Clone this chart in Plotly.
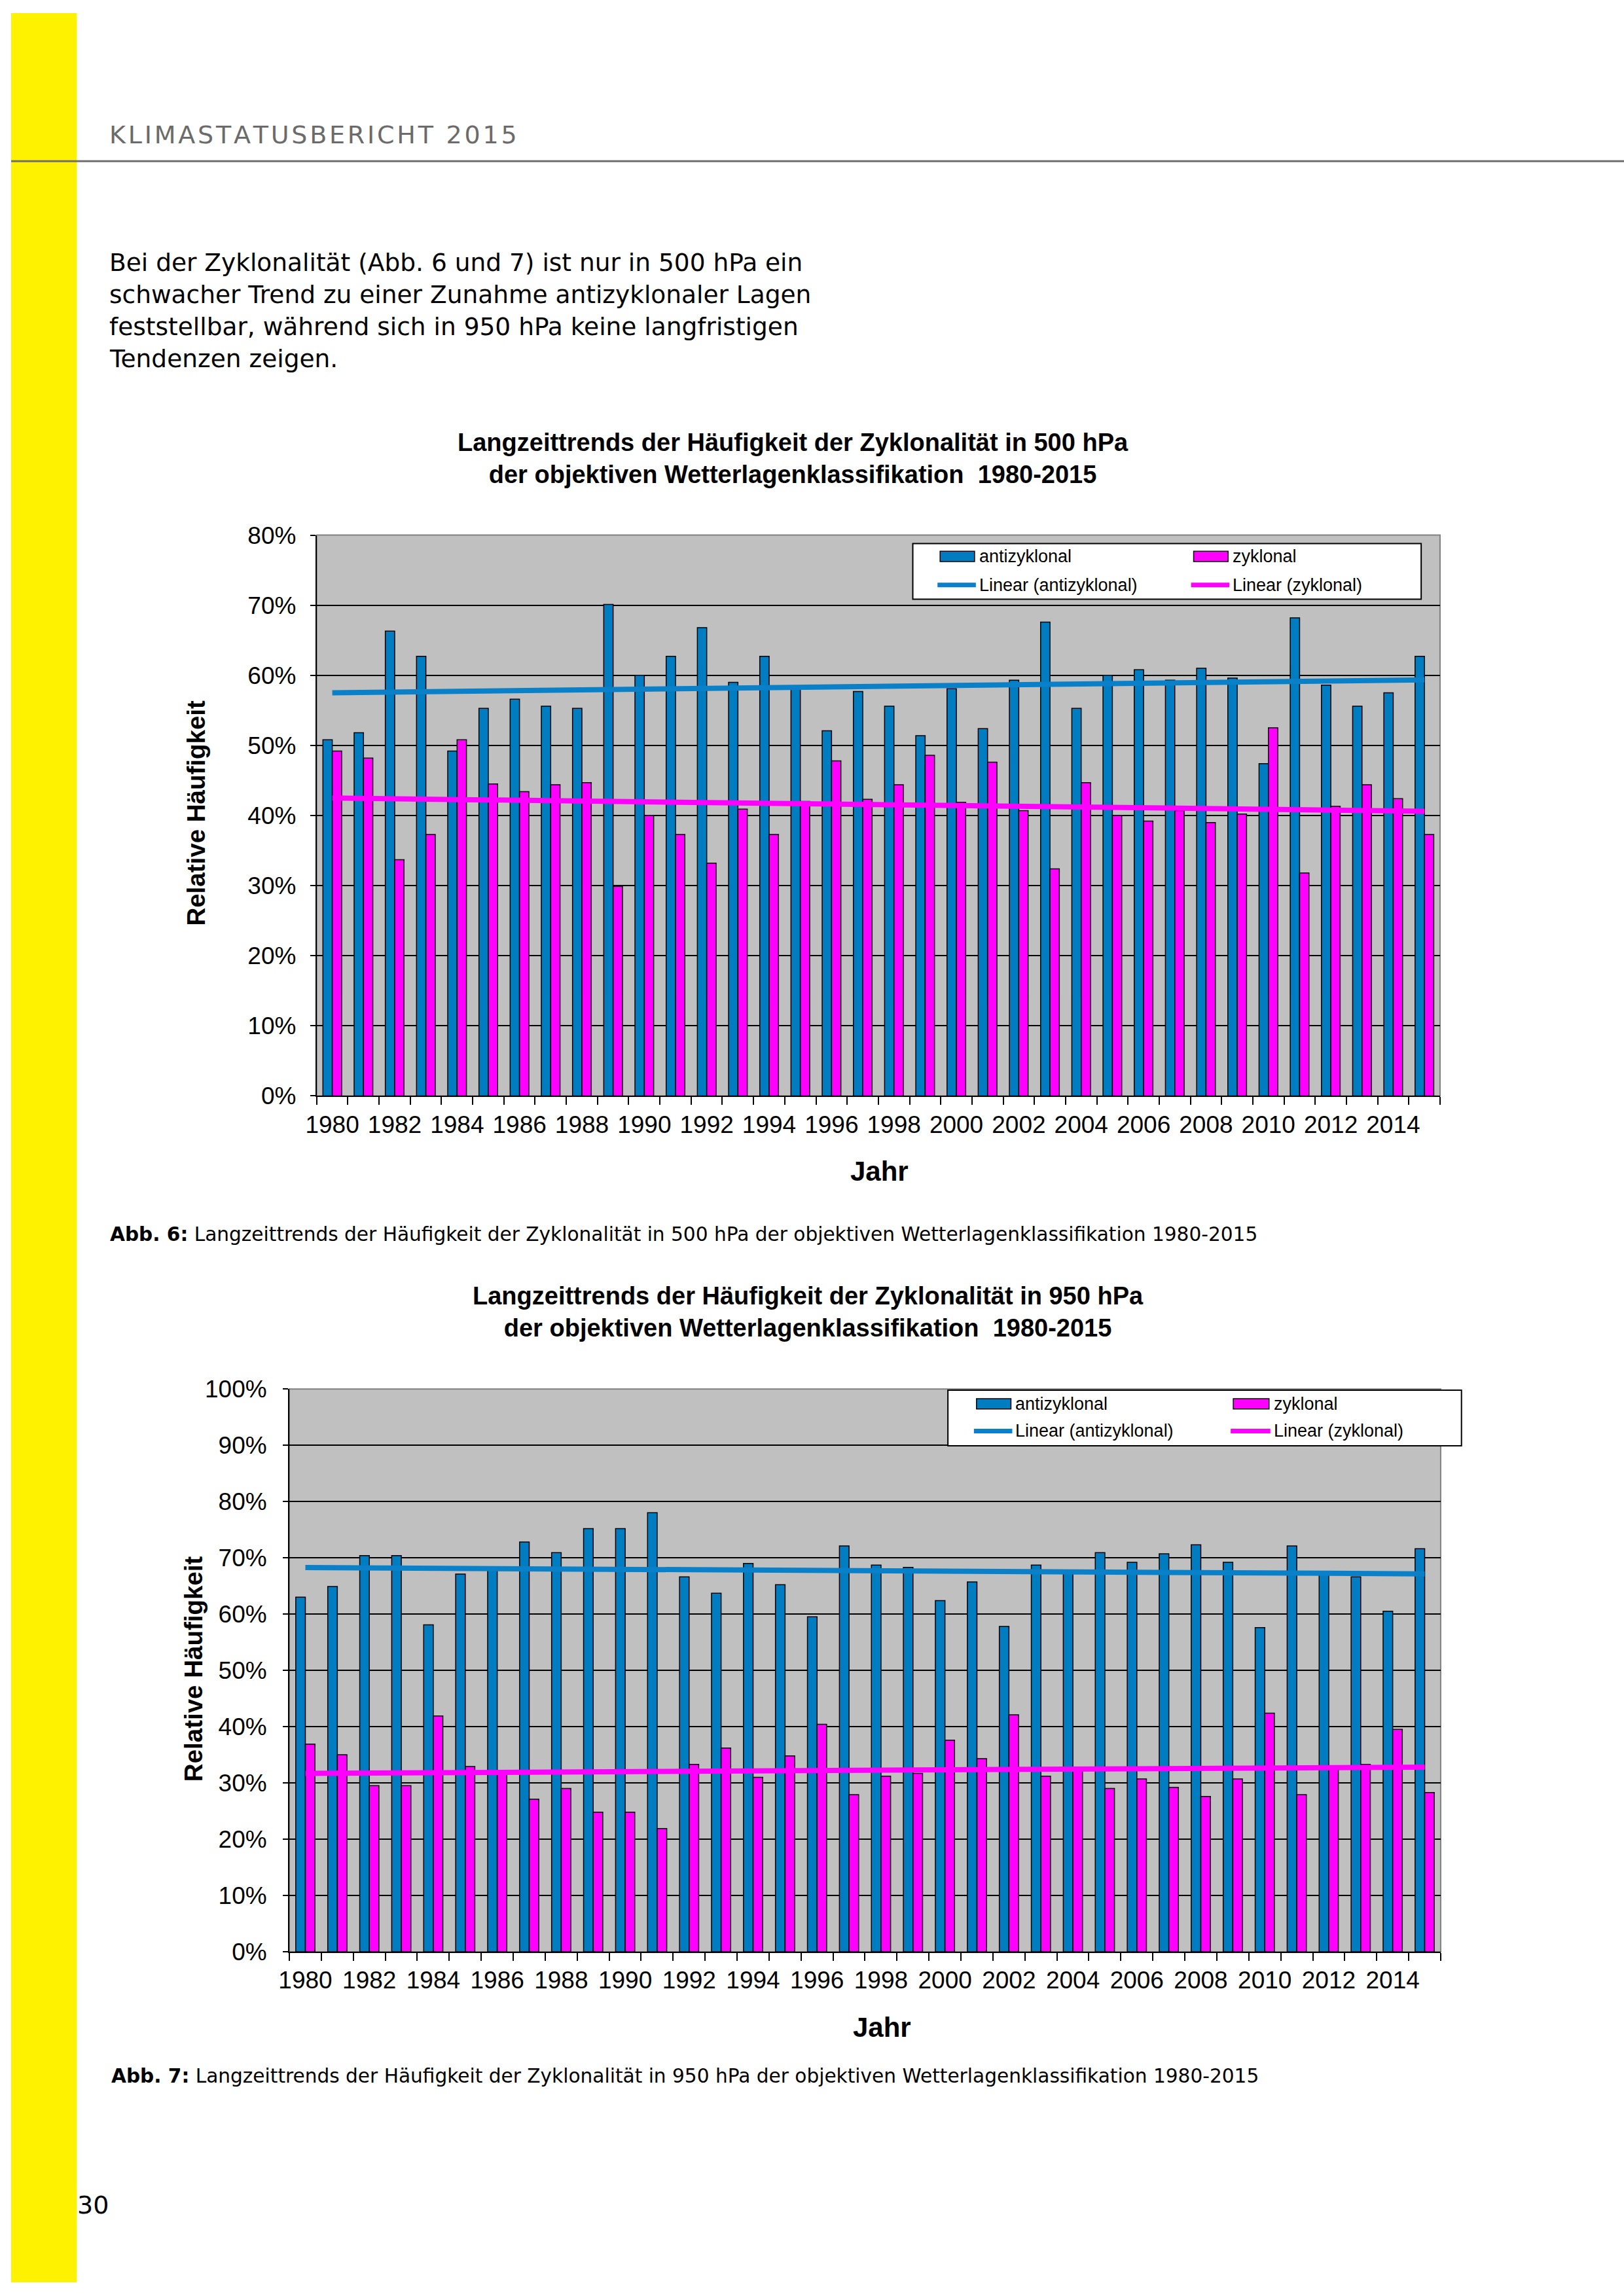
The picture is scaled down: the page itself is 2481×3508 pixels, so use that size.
import numpy as np
import plotly.graph_objects as go

# ---------------- data ----------------
years = list(range(1980, 2016))
tick_years = years[::2]
tick_labels = [str(y) for y in tick_years]

anti_500 = [50.8, 51.8, 66.3, 62.7, 49.2, 55.3, 56.6, 55.6, 55.3, 70.1, 60.0, 62.7,
            66.8, 59.0, 62.7, 58.0, 52.1, 57.7, 55.6, 51.4, 58.1, 52.4, 59.3, 67.6,
            55.3, 60.0, 60.8, 59.3, 61.0, 59.6, 47.4, 68.2, 58.6, 55.6, 57.5, 62.7]
zyk_500 = [49.2, 48.2, 33.7, 37.3, 50.8, 44.5, 43.4, 44.4, 44.7, 29.9, 40.0, 37.3,
           33.2, 40.9, 37.3, 42.0, 47.8, 42.3, 44.4, 48.6, 41.9, 47.6, 40.7, 32.4,
           44.7, 40.0, 39.2, 40.7, 39.0, 40.2, 52.5, 31.8, 41.3, 44.4, 42.4, 37.3]

anti_950 = [63.0, 64.9, 70.4, 70.4, 58.1, 67.1, 68.1, 72.8, 70.9, 75.2, 75.2, 78.0,
            66.6, 63.7, 69.0, 65.2, 59.5, 72.1, 68.7, 68.3, 62.4, 65.7, 57.8, 68.7,
            67.6, 70.9, 69.2, 70.7, 72.3, 69.2, 57.6, 72.1, 67.2, 66.6, 60.5, 71.6]
zyk_950 = [36.9, 35.0, 29.5, 29.5, 41.9, 32.9, 31.9, 27.1, 29.0, 24.8, 24.8, 21.9,
           33.3, 36.2, 31.0, 34.8, 40.4, 27.9, 31.2, 31.7, 37.6, 34.3, 42.1, 31.2,
           32.4, 29.0, 30.7, 29.2, 27.6, 30.7, 42.4, 27.9, 32.8, 33.3, 39.5, 28.3]

series_names = ["antizyklonal", "zyklonal", "Linear (antizyklonal)", "Linear (zyklonal)"]

title_500 = "<b>Langzeittrends der Häufigkeit der Zyklonalität in 500 hPa<br>der objektiven Wetterlagenklassifikation  1980-2015</b>"
title_950 = "<b>Langzeittrends der Häufigkeit der Zyklonalität in 950 hPa<br>der objektiven Wetterlagenklassifikation  1980-2015</b>"
caption_500 = "<b>Abb. 6:</b> Langzeittrends der Häufigkeit der Zyklonalität in 500 hPa der objektiven Wetterlagenklassifikation 1980-2015"
caption_950 = "<b>Abb. 7:</b> Langzeittrends der Häufigkeit der Zyklonalität in 950 hPa der objektiven Wetterlagenklassifikation 1980-2015"
header = "KLIMASTATUSBERICHT 2015"
paragraph = ["Bei der Zyklonalität (Abb. 6 und 7) ist nur in 500 hPa ein",
             "schwacher Trend zu einer Zunahme antizyklonaler Lagen",
             "feststellbar, während sich in 950 hPa keine langfristigen",
             "Tendenzen zeigen."]
page_no = "30"

# ---------------- style ----------------
W, H = 2481, 3508
BLUE = "#007CC0"
TREND_BLUE = "#0A80C8"
MAGENTA = "#FF00FF"
ARIAL = "Liberation Sans, Arial, sans-serif"
BODY = "DejaVu Sans, sans-serif"


def px(x):
    return x / W


def py(y):
    return 1 - y / H


def trend(vals):
    k, b = np.polyfit(np.array(years, dtype=float), np.array(vals, dtype=float), 1)
    xs = [years[0], years[-1]]
    return xs, [k * x + b for x in xs]


fig = go.Figure()

charts = [
    dict(anti=anti_500, zyk=zyk_500, xa="x", ya="y", ymax=80,
         dom_x=(470, 2198), dom_y=(807, 1674), ystand=14),
    dict(anti=anti_950, zyk=zyk_950, xa="x2", ya="y2", ymax=100,
         dom_x=(428, 2199), dom_y=(2127, 2997), ystand=17),
]

for c in charts:
    fig.add_trace(go.Bar(x=years, y=c["anti"], name=series_names[0], xaxis=c["xa"], yaxis=c["ya"],
                         marker=dict(color=BLUE, line=dict(color="black", width=1.5)),
                         offsetgroup="a", showlegend=False))
    fig.add_trace(go.Bar(x=years, y=c["zyk"], name=series_names[1], xaxis=c["xa"], yaxis=c["ya"],
                         marker=dict(color=MAGENTA, line=dict(color="black", width=1.5)),
                         offsetgroup="z", showlegend=False))
    tx, ty = trend(c["anti"])
    fig.add_trace(go.Scatter(x=tx, y=ty, mode="lines", name=series_names[2], xaxis=c["xa"], yaxis=c["ya"],
                             line=dict(color=TREND_BLUE, width=8), showlegend=False))
    tx, ty = trend(c["zyk"])
    fig.add_trace(go.Scatter(x=tx, y=ty, mode="lines", name=series_names[3], xaxis=c["xa"], yaxis=c["ya"],
                             line=dict(color=MAGENTA, width=8), showlegend=False))

axis_common_x = dict(range=[1979.5, 2015.5], tickmode="array", tickvals=tick_years, ticktext=tick_labels,
                     ticks="", showgrid=False, zeroline=False, showline=True, linecolor="black", linewidth=2,
                     tickfont=dict(family=ARIAL, size=37, color="black"), ticklabelstandoff=10,
                     minor=dict(tickvals=[1979.5 + i for i in range(37)], ticks="outside", ticklen=12,
                                tickcolor="black", tickwidth=2, showgrid=False))
axis_common_y = dict(dtick=10, ticksuffix="%", ticks="outside", ticklen=8, tickcolor="black", tickwidth=2,
                     showgrid=True, gridcolor="black", gridwidth=2, zeroline=False, showline=True,
                     linecolor="black", linewidth=2, tickfont=dict(family=ARIAL, size=37, color="black"))

layout = dict(width=W, height=H, margin=dict(l=0, r=0, t=0, b=0), paper_bgcolor="white",
              plot_bgcolor="#C0C0C0", barmode="group", bargap=0.4, bargroupgap=0.0, showlegend=False)
for i, c in enumerate(charts):
    sfx = "" if i == 0 else "2"
    layout["xaxis" + sfx] = dict(axis_common_x, domain=[px(c["dom_x"][0]), px(c["dom_x"][1])],
                                 anchor="y" + sfx)
    layout["yaxis" + sfx] = dict(axis_common_y, range=[0, c["ymax"]], ticklabelstandoff=c["ystand"],
                                 domain=[py(c["dom_y"][1]), py(c["dom_y"][0])], anchor="x" + sfx)
fig.update_layout(**layout)

shapes = []
annotations = []


def ann(text, x, y, size, color="black", family=BODY, xanchor="left", yanchor="middle", angle=0, align="left"):
    annotations.append(dict(text=text, x=px(x), y=py(y), xref="paper", yref="paper", showarrow=False,
                            xanchor=xanchor, yanchor=yanchor, textangle=angle, align=align,
                            font=dict(family=family, size=size, color=color)))


# page decorations
shapes.append(dict(type="rect", xref="paper", yref="paper", x0=0, x1=px(101), y0=0, y1=1,
                   fillcolor="#FFF200", line=dict(width=0), layer="below"))
shapes.append(dict(type="line", xref="paper", yref="paper", x0=0, x1=1, y0=py(229), y1=py(229),
                   line=dict(color="#707070", width=3)))
ann("\u200a".join(header), 149, 188, 38, color="#6B6B6B", family="DejaVu Sans, sans-serif")
for i, line in enumerate(paragraph):
    ann(line, 149, 386 + i * 49.5, 37.5)
ann(page_no, 100, 3389, 38)

# chart frames (gray plot-area border)
for i, c in enumerate(charts):
    sfx = "" if i == 0 else "2"
    shapes.append(dict(type="rect", xref="x" + sfx + " domain", yref="y" + sfx + " domain",
                       x0=0, x1=1, y0=0, y1=1, line=dict(color="#808080", width=2), layer="below"))

# titles and axis titles
ann(title_500, 1203, 689, 38, family=ARIAL, xanchor="center", align="center")
ann(title_950, 1226, 2008, 38, family=ARIAL, xanchor="center", align="center")
ann("<b>Relative Häufigkeit</b>", 284, 1237, 38.5, family=ARIAL, xanchor="center", angle=-90)
ann("<b>Relative Häufigkeit</b>", 280, 2560, 38.5, family=ARIAL, xanchor="center", angle=-90)
ann("<b>Jahr</b>", 1336, 1790, 42, family=ARIAL, xanchor="center")
ann("<b>Jahr</b>", 1340, 3114, 42, family=ARIAL, xanchor="center")
ann(caption_500, 150, 1888, 29.6)
ann(caption_950, 152, 3189, 29.6)

# legends (drawn as boxes with swatches)
legends = [
    dict(box=(1387, 2169, 820, 906), rows=(840, 884), sw=((1429, 1482), (1819, 1872))),
    dict(box=(1441, 2231, 2129, 2215), rows=(2150, 2192), sw=((1485, 1538), (1880, 1935))),
]
sw_colors = [(BLUE, MAGENTA), (TREND_BLUE, MAGENTA)]
for lg in legends:
    x0, x1, y0, y1 = lg["box"]
    shapes.append(dict(type="rect", xref="paper", yref="paper", x0=px(x0), x1=px(x1), y0=py(y1), y1=py(y0),
                       fillcolor="white", line=dict(color="black", width=2), layer="above"))
    for col in range(2):
        sx0, sx1 = lg["sw"][col]
        ry = lg["rows"][0]
        shapes.append(dict(type="rect", xref="paper", yref="paper", x0=px(sx0), x1=px(sx1),
                           y0=py(ry + 8), y1=py(ry - 8), fillcolor=sw_colors[0][col],
                           line=dict(color="black", width=1.5), layer="above"))
        ry2 = lg["rows"][1]
        shapes.append(dict(type="line", xref="paper", yref="paper", x0=px(sx0 - 4), x1=px(sx1 + 2),
                           y0=py(ry2), y1=py(ry2), line=dict(color=sw_colors[1][col], width=7),
                           layer="above"))
        ann(series_names[col], sx1 + 5, ry, 27, family=ARIAL)
        ann(series_names[2 + col], sx1 + 5, ry2, 27, family=ARIAL)

fig.update_layout(shapes=shapes, annotations=annotations)

page_css = (
    "document.documentElement.style.margin='0px';"
    "document.documentElement.style.padding='0px';"
    "document.documentElement.style.overflow='hidden';"
    "document.body.style.margin='0px';"
    "document.body.style.padding='0px';"
    "document.body.style.overflow='hidden';"
    "var gd=document.getElementById('{plot_id}');"
    "gd.style.position='fixed';gd.style.left='0px';gd.style.top='0px';"
)
fig.write_html("out.html", config={"displayModeBar": False}, post_script=page_css)
